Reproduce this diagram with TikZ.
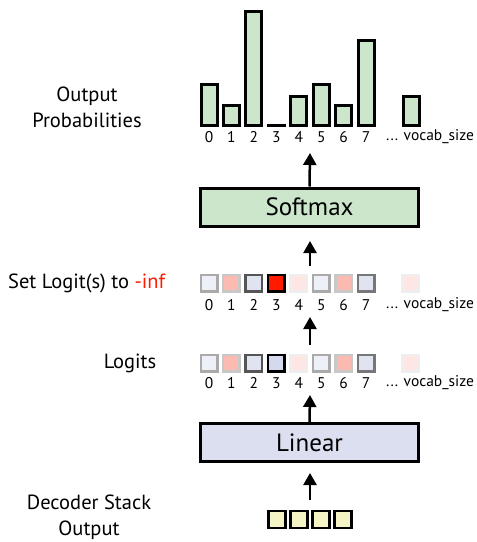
\documentclass[tikz,border=0pt]{standalone}
\usepackage{fontspec}
\setmainfont{PT Sans}
\usetikzlibrary{arrows.meta}
\definecolor{barg}{HTML}{CCE6CC}
\definecolor{linf}{HTML}{DCDFF0}
\definecolor{decy}{HTML}{F4F4C4}
\definecolor{hot}{HTML}{FF1A00}
\definecolor{pinkA}{HTML}{FBBAB2}
\definecolor{pinkB}{HTML}{FDE6E3}
\definecolor{lavA}{HTML}{EEF0F8}
\definecolor{lavB}{HTML}{E0E3F0}
\definecolor{lavC}{HTML}{D5D9EE}
\definecolor{gA}{HTML}{AAAAAA}
\definecolor{gB}{HTML}{C8C8C8}
\definecolor{gC}{HTML}{555555}
\definecolor{gD}{HTML}{EEEEEE}
\definecolor{gE}{HTML}{777777}
\begin{document}
\begin{tikzpicture}[x=1pt,y=-1pt,
  cell/.style={draw, line width=2.5pt, minimum size=16.5pt, inner sep=0pt, outer sep=0pt},
  bigbox/.style={draw, line width=3pt, minimum width=218pt, minimum height=38pt, inner sep=0pt, font=\fontsize{25}{30}\selectfont},
  digit/.style={inner sep=0pt, font=\fontsize{15.5}{18}\selectfont},
  sidelabel/.style={inner sep=0pt, align=center, font=\fontsize{20.5}{26}\selectfont},
  bar/.style={draw, line width=3pt, fill=barg},
  arr/.style={line width=2.5pt, -{Triangle[width=13pt,length=12pt]}}
]
\useasboundingbox (0,0) rectangle (477,542);

% ---------- side labels
\node[sidelabel] (lOut) at (87,107) {Output\\Probabilities};
\node[sidelabel, anchor=west] (lSet) at (8,283) {Set Logit(s) to {\color{hot}-inf}};
\node[sidelabel] (lLog) at (130,363) {Logits};
\node[sidelabel] (lDec) at (89,517) {Decoder Stack\\Output};

% ---------- bars
\foreach \i/\t in {0/83,1/104,2/10,4/95,5/83,6/104,7/39}{
  \draw[bar] ({209+22.45*\i-8},125.5) rectangle ({209+22.45*\i+8},\t+1.5);
}
\draw[line width=3pt] ({209+22.45*3-9.5},125.5) -- ({209+22.45*3+9.5},125.5);
\draw[bar] (411-8,125.5) rectangle (411+8,95+1.5);

% ---------- digit labels
\foreach \y/\r in {137/p,305/s,383/l}{
  \foreach \i in {0,...,7}{
    \node[digit] (\r\i) at ({209+22.45*\i},\y) {\i};
  }
  \node[digit, anchor=west] (\r v) at (386,\y) {... vocab\_size};
}

% ---------- set logits row
\foreach \i/\f/\d in {0/lavA/gA,1/pinkA/gB,2/lavB/gC,3/hot/black,4/pinkB/gD,5/lavA/gA,6/pinkA/gB,7/lavB/gE}{
  \node[cell, fill=\f, draw=\d] (s\i c) at ({209+22.45*\i},283) {};
}
\node[cell, fill=pinkB, draw=gD] (svc) at (410.5,283) {};

% ---------- logits row
\foreach \i/\f/\d in {0/lavA/gA,1/pinkA/gB,2/lavB/gC,3/lavC/black,4/pinkB/gD,5/lavA/gA,6/pinkA/gB,7/lavB/gE}{
  \node[cell, fill=\f, draw=\d] (l\i c) at ({209+22.45*\i},363) {};
}
\node[cell, fill=pinkB, draw=gD] (lvc) at (410.5,363) {};

% ---------- boxes
\node[bigbox, fill=barg] (soft) at (309.5,207) {Softmax};
\node[bigbox, fill=linf] (lin) at (309.5,442.5) {Linear};

% ---------- decoder output
\foreach \i in {0,...,3}{
  \node[cell, fill=decy, draw=black, minimum size=17pt] (d\i) at ({277+22*\i},519.5) {};
}

% ---------- arrow endpoints
\coordinate (decTop) at (310,500);
\coordinate (linIn) at (310,473);
\coordinate (logIn) at (310,395);
\coordinate (setOut) at (310,345);
\coordinate (setIn) at (310,317);
\coordinate (softTail) at (310,266);
\coordinate (softIn) at (310,241);
\coordinate (barIn) at (310,153);

\draw[arr] (decTop) -- (linIn);
\draw[arr] (lin.north) -- (logIn);
\draw[arr] (setOut) -- (setIn);
\draw[arr] (softTail) -- (softIn);
\draw[arr] (soft.north) -- (barIn);
\end{tikzpicture}
\end{document}
